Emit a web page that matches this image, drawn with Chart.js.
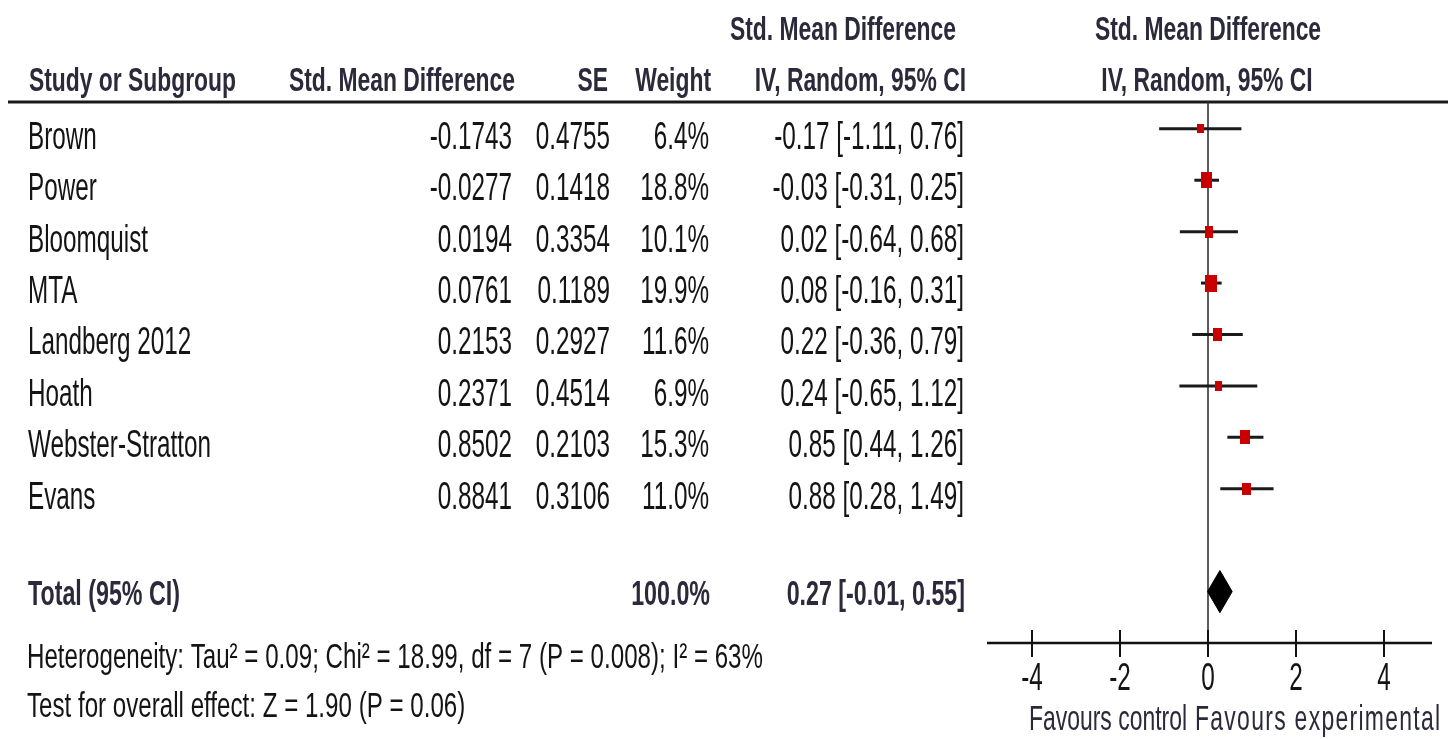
<!DOCTYPE html>
<html>
<head>
<meta charset="utf-8">
<title>Forest plot</title>
<script src="https://cdn.jsdelivr.net/npm/chart.js@4/dist/chart.umd.min.js"></script>
<style>
  html, body { margin: 0; padding: 0; background: #ffffff; }
  canvas { display: block; }
</style>
</head>
<body>
<canvas id="forest" width="1448" height="739"></canvas>
<script>
// ---- study data ----
const studies  = ['Brown', 'Power', 'Bloomquist', 'MTA', 'Landberg 2012', 'Hoath', 'Webster-Stratton', 'Evans'];
const smd      = [-0.1743, -0.0277, 0.0194, 0.0761, 0.2153, 0.2371, 0.8502, 0.8841];
const se       = [0.4755, 0.1418, 0.3354, 0.1189, 0.2927, 0.4514, 0.2103, 0.3106];
const weights  = [6.4, 18.8, 10.1, 19.9, 11.6, 6.9, 15.3, 11.0];
const ciLow    = [-1.11, -0.31, -0.64, -0.16, -0.36, -0.65, 0.44, 0.28];
const ciHigh   = [0.76, 0.25, 0.68, 0.31, 0.79, 1.12, 1.26, 1.49];

// ---- pooled estimate ----
const totalEst    = 0.27;
const totalLow    = -0.01;
const totalHigh   = 0.55;
const totalWeight = 100.0;

// ---- axis ----
const xTicks = [-4, -2, 0, 2, 4];
const xMin = -5, xMax = 5;

const heterogeneityText = 'Heterogeneity: Tau\u00B2 = 0.09; Chi\u00B2 = 18.99, df = 7 (P = 0.008); I\u00B2 = 63%';
const overallText = 'Test for overall effect: Z = 1.90 (P = 0.06)';

// row positions on the y scale (one unit per study, pooled row after a gap)
const totalRow = studies.length + 1;
const axisRow = totalRow + 1;

// ---- text styles (fonts are squeezed horizontally to a narrow face) ----
const FAMILY = "'Liberation Sans', Arial, sans-serif";
const styles = {
  head:   { font: 'bold 34px ' + FAMILY, color: '#2a2a3a', sample: 'Study or Subgroup', span: 207 },
  row:    { font: '38px ' + FAMILY,      color: '#141414', sample: 'Webster-Stratton',  span: 183 },
  total:  { font: 'bold 35px ' + FAMILY, color: '#2a2a3a', sample: 'Total (95% CI)',    span: 152 },
  foot:   { font: '35px ' + FAMILY,      color: '#141414', sample: heterogeneityText,   span: 736 },
  tick:   { font: '38px ' + FAMILY,      color: '#141414', sample: 'Webster-Stratton',  span: 183 },
  favour: { font: '35px ' + FAMILY,      color: '#2a2a3a', sample: 'Favours control',   span: 158 }
};

function prepareStyles(ctx) {
  Object.values(styles).forEach(st => {
    ctx.font = st.font;
    st.sx = st.span / ctx.measureText(st.sample).width;
  });
}

// spacing: extra gap between letters, in output pixels
function drawText(ctx, str, x, y, align, st, spacing) {
  ctx.save();
  ctx.font = st.font;
  ctx.fillStyle = st.color;
  ctx.textAlign = 'left';
  ctx.textBaseline = 'alphabetic';
  if (spacing) ctx.letterSpacing = (spacing / st.sx) + 'px';
  const w = ctx.measureText(str).width * st.sx;
  const x0 = align === 'right' ? x - w : (align === 'center' ? x - w / 2 : x);
  ctx.translate(x0, y);
  ctx.scale(st.sx, 1);
  ctx.fillText(str, 0, 0);
  ctx.restore();
}

// red weight boxes: area follows the study weight
function weightBox(w) {
  const c = document.createElement('canvas');
  c.width = Math.max(2, Math.round(2.6 * Math.sqrt(w)));
  c.height = Math.max(2, Math.round(3.7 * Math.sqrt(w)));
  const g = c.getContext('2d');
  g.fillStyle = '#c80000';
  g.fillRect(0, 0, c.width, c.height);
  return c;
}

const fmt2 = v => v.toFixed(2);
const fmt4 = v => v.toFixed(4);
const fmtW = v => v.toFixed(1) + '%';
const fmtCI = (e, l, h) => fmt2(e) + ' [' + fmt2(l) + ', ' + fmt2(h) + ']';

// ---- datasets ----
const ciSets = studies.map((s, i) => ({
  type: 'scatter',
  label: s + ' CI',
  data: [{ x: ciLow[i], y: i }, { x: ciHigh[i], y: i }],
  showLine: true,
  borderColor: '#1a1a1a',
  borderWidth: 3,
  pointRadius: 0,
  order: 2
}));

const boxSet = {
  type: 'scatter',
  label: 'Std. Mean Difference',
  data: smd.map((v, i) => ({ x: v, y: i })),
  pointStyle: weights.map(weightBox),
  order: 1
};

const diamondHalf = 0.41;
const diamondSet = {
  type: 'scatter',
  label: 'Total',
  data: [
    { x: totalLow, y: totalRow },
    { x: totalEst, y: totalRow - diamondHalf },
    { x: totalHigh, y: totalRow },
    { x: totalEst, y: totalRow + diamondHalf },
    { x: totalLow, y: totalRow }
  ],
  showLine: true,
  fill: 'shape',
  backgroundColor: '#000000',
  borderColor: '#000000',
  borderWidth: 1,
  pointRadius: 0,
  order: 1
};

// ---- frame, zero line, axis and the table text ----
const forestDecor = {
  id: 'forestDecor',
  beforeDatasetsDraw(chart) {
    const ctx = chart.ctx;
    const xs = chart.scales.x, ys = chart.scales.y;
    const x0 = xs.getPixelForValue(0);
    const axisY = ys.getPixelForValue(axisRow);
    ctx.save();
    // header rule
    ctx.strokeStyle = '#1a1a1a';
    ctx.lineWidth = 3;
    ctx.beginPath();
    ctx.moveTo(8, 102);
    ctx.lineTo(1448, 102);
    ctx.stroke();
    // line of no effect
    ctx.strokeStyle = '#333333';
    ctx.lineWidth = 1.6;
    ctx.beginPath();
    ctx.moveTo(x0, 102);
    ctx.lineTo(x0, axisY);
    ctx.stroke();
    // horizontal axis with crossing ticks
    ctx.strokeStyle = '#111111';
    ctx.lineWidth = 2.5;
    ctx.beginPath();
    ctx.moveTo(xs.getPixelForValue(xMin) - 1, axisY);
    ctx.lineTo(xs.getPixelForValue(xMax) + 4, axisY);
    ctx.stroke();
    ctx.lineWidth = 2;
    xTicks.forEach(t => {
      const px = xs.getPixelForValue(t);
      ctx.beginPath();
      ctx.moveTo(px, axisY - 13);
      ctx.lineTo(px, axisY + 14);
      ctx.stroke();
    });
    ctx.restore();
  },
  afterDraw(chart) {
    const ctx = chart.ctx;
    const xs = chart.scales.x, ys = chart.scales.y;
    const x0 = xs.getPixelForValue(0);
    prepareStyles(ctx);

    // column headers
    drawText(ctx, 'Std. Mean Difference', 956, 40, 'right', styles.head);
    drawText(ctx, 'Std. Mean Difference', x0, 40, 'center', styles.head);
    drawText(ctx, 'Study or Subgroup', 29, 91, 'left', styles.head);
    drawText(ctx, 'Std. Mean Difference', 515, 91, 'right', styles.head);
    drawText(ctx, 'SE', 608, 91, 'right', styles.head);
    drawText(ctx, 'Weight', 711, 91, 'right', styles.head);
    drawText(ctx, 'IV, Random, 95% CI', 966, 91, 'right', styles.head);
    drawText(ctx, 'IV, Random, 95% CI', x0 - 1, 91, 'center', styles.head);

    // study rows
    studies.forEach((s, i) => {
      const y = ys.getPixelForValue(i) + 20;
      drawText(ctx, s, 28, y, 'left', styles.row);
      drawText(ctx, fmt4(smd[i]), 512, y, 'right', styles.row);
      drawText(ctx, fmt4(se[i]), 610, y, 'right', styles.row);
      drawText(ctx, fmtW(weights[i]), 709, y, 'right', styles.row);
      drawText(ctx, fmtCI(smd[i], ciLow[i], ciHigh[i]), 964, y, 'right', styles.row);
    });

    // pooled row
    const ty = ys.getPixelForValue(totalRow) + 13.5;
    drawText(ctx, 'Total (95% CI)', 28, ty, 'left', styles.total);
    drawText(ctx, fmtW(totalWeight), 710, ty, 'right', styles.total);
    drawText(ctx, fmtCI(totalEst, totalLow, totalHigh), 965, ty, 'right', styles.total);

    // footnotes
    drawText(ctx, heterogeneityText, 27, 668, 'left', styles.foot);
    drawText(ctx, overallText, 27, 717, 'left', styles.foot);

    // axis labels
    xTicks.forEach(t => {
      drawText(ctx, String(t), xs.getPixelForValue(t), 690, 'center', styles.tick);
    });
    drawText(ctx, 'Favours control', x0 - 21, 730, 'right', styles.favour);
    drawText(ctx, 'Favours experimental', x0 - 13, 730, 'left', styles.favour, 1.3);
  }
};

new Chart(document.getElementById('forest'), {
  type: 'scatter',
  data: { datasets: [...ciSets, boxSet, diamondSet] },
  options: {
    responsive: false,
    animation: false,
    events: [],
    layout: { padding: { left: 988, right: 20, top: 100, bottom: 96 } },
    plugins: { legend: { display: false }, tooltip: { enabled: false } },
    scales: {
      x: { type: 'linear', min: xMin, max: xMax, display: false },
      y: { type: 'linear', min: -0.56, max: axisRow, reverse: true, display: false }
    }
  },
  plugins: [forestDecor]
});
</script>
</body>
</html>
